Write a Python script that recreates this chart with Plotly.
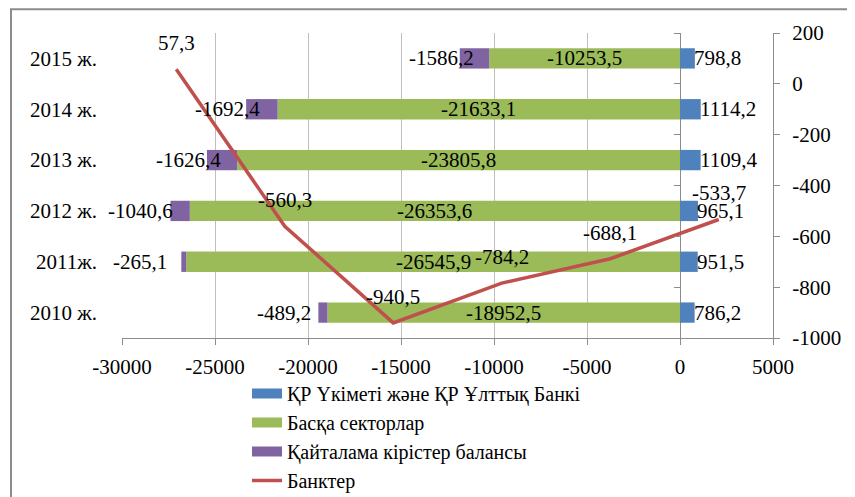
import plotly.graph_objects as go

years = ["2010 ж.", "2011ж.", "2012 ж.", "2013 ж.", "2014 ж.", "2015 ж."]
gov = [786.2, 951.5, 965.1, 1109.4, 1114.2, 798.8]
other = [-18952.5, -26545.9, -26353.6, -23805.8, -21633.1, -10253.5]
secondary = [-489.2, -265.1, -1040.6, -1626.4, -1692.4, -1586.2]
banks = [57.3, -560.3, -940.5, -784.2, -688.1, -533.7]

x_ticks = [-30000, -25000, -20000, -15000, -10000, -5000, 0, 5000]
x_ticklabels = ["-30000", "-25000", "-20000", "-15000", "-10000", "-5000", "0", "5000"]
y2_ticks = [-1000, -800, -600, -400, -200, 0, 200]
y2_ticklabels = ["-1000", "-800", "-600", "-400", "-200", "0", "200"]

names = ["ҚР Үкіметі және ҚР Ұлттық Банкі", "Басқа секторлар",
         "Қайталама кірістер балансы", "Банктер"]

BLUE, GREEN, PURPLE, RED = "#4F81BD", "#9BBB59", "#8064A2", "#C0504D"
AX = "#8C8C8C"
GRID = "#BFBFBF"
FONT = "Liberation Serif"
FS = 21

def fmt(v):
    return f"{v:.1f}".replace(".", ",")

xmin, xmax = x_ticks[0], x_ticks[-1]

fig = go.Figure()
for vals, col, nm in [(gov, BLUE, names[0]), (other, GREEN, names[1]),
                      (secondary, PURPLE, names[2])]:
    fig.add_trace(go.Bar(y=years, x=vals, orientation="h", name=nm,
                         marker=dict(color=col, line=dict(width=0)), width=0.4,
                         showlegend=False, legendgroup=nm))
fig.add_trace(go.Scatter(x=years, y=banks, xaxis="x2", yaxis="y2", mode="lines",
                         name=names[3], line=dict(color=RED, width=3.5),
                         showlegend=False, legendgroup=names[3]))
# legend entries drawn as wide swatches, like the original
for col, nm, w in [(BLUE, names[0], 10), (GREEN, names[1], 10),
                   (PURPLE, names[2], 10), (RED, names[3], 3.5)]:
    fig.add_trace(go.Scatter(x=[None], y=[None], mode="lines", name=nm,
                             legendgroup=nm, line=dict(color=col, width=w),
                             hoverinfo="skip"))
# invisible helper trace so the category tick axis at x=0 is drawn
fig.add_trace(go.Scatter(x=[None], y=[None], yaxis="y3", showlegend=False,
                         hoverinfo="skip"))

ann = []
tf = dict(family=FONT, size=FS, color="black")
for i, y in enumerate(years):
    ann.append(dict(x=gov[i], y=y, xref="x", yref="y", text=fmt(gov[i]),
                    showarrow=False, xanchor="left", xshift=-3, font=tf))
    ann.append(dict(x=other[i] / 2, y=y, xref="x", yref="y", text=fmt(other[i]),
                    showarrow=False, xanchor="center", font=tf))
purple_shift = [-5, -12, 5, 16, 16, 16]
for i, y in enumerate(years):
    ann.append(dict(x=other[i] + secondary[i], y=y, xref="x", yref="y",
                    text=fmt(secondary[i]), showarrow=False, xanchor="right",
                    xshift=purple_shift[i], font=tf))
for i, y in enumerate(years):
    ann.append(dict(x=y, y=banks[i], xref="x2", yref="y2", text=fmt(banks[i]),
                    showarrow=False, xanchor="center", yshift=26, font=tf))

fig.update_layout(
    width=847, height=489,
    margin=dict(l=114, r=82, t=25, b=159, autoexpand=False),
    paper_bgcolor="white", plot_bgcolor="white",
    barmode="relative",
    font=dict(family=FONT, size=FS, color="black"),
    showlegend=True,
    legend=dict(orientation="v", x=0.192, y=-0.118, xanchor="left", yanchor="top",
                traceorder="normal", font=dict(family=FONT, size=20, color="black"),
                bgcolor="rgba(0,0,0,0)", tracegroupgap=0),
    xaxis=dict(range=[xmin, xmax], tickvals=x_ticks, ticktext=x_ticklabels,
               showgrid=True, gridcolor=GRID, gridwidth=1,
               zeroline=True, zerolinecolor=AX, zerolinewidth=1,
               showline=True, linecolor=AX, linewidth=1,
               ticks="outside", ticklen=6, tickcolor=AX, ticklabelstandoff=4,
               automargin=False),
    yaxis=dict(type="category", categoryorder="array", categoryarray=years,
               range=[-0.5, 5.5], showgrid=False, zeroline=False, showline=False,
               ticks="", ticklabelstandoff=24, automargin=False),
    yaxis3=dict(overlaying="y", anchor="free",
                position=(0 - xmin) / (xmax - xmin),
                range=[-0.5, 5.5], tickvals=[i - 0.5 for i in range(len(years) + 1)],
                showticklabels=False, ticks="outside", ticklen=6, tickcolor=AX,
                showgrid=False, zeroline=False, showline=False),
    xaxis2=dict(overlaying="x", anchor="y2", side="top", type="category",
                categoryorder="array", categoryarray=years,
                range=[-0.5, 5.5], visible=False),
    yaxis2=dict(overlaying="y", side="right", anchor="x2",
                range=[y2_ticks[0], y2_ticks[-1]], tickvals=y2_ticks,
                ticktext=y2_ticklabels, showgrid=False, zeroline=False,
                showline=True, linecolor=AX, linewidth=1,
                ticks="outside", ticklen=6, tickcolor=AX, ticklabelstandoff=8,
                automargin=False),
    annotations=ann,
    shapes=[dict(type="rect", xref="paper", yref="paper",
                 x0=-0.1705, x1=1.3, y0=-0.7, y1=1.078,
                 line=dict(color=AX, width=2), fillcolor="rgba(0,0,0,0)",
                 layer="below")],
)

fig.write_html("out.html")
